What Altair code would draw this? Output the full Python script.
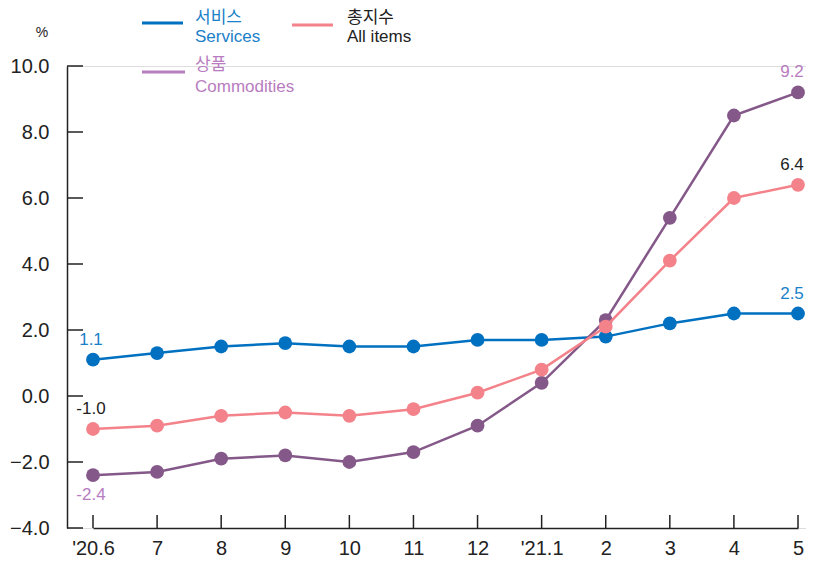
import altair as alt
import pandas as pd

months = ["'20.6", "7", "8", "9", "10", "11", "12", "'21.1", "2", "3", "4", "5"]
services = [1.1, 1.3, 1.5, 1.6, 1.5, 1.5, 1.7, 1.7, 1.8, 2.2, 2.5, 2.5]
all_items = [-1.0, -0.9, -0.6, -0.5, -0.6, -0.4, 0.1, 0.8, 2.1, 4.1, 6.0, 6.4]
commodities = [-2.4, -2.3, -1.9, -1.8, -2.0, -1.7, -0.9, 0.4, 2.3, 5.4, 8.5, 9.2]
y_ticks = [-4, -2, 0, 2, 4, 6, 8, 10]

FONT = "Liberation Sans, Arial, Noto Sans CJK KR"
C_SERV = "#0070c0"
C_ALL = "#f4828a"
C_COMM = "#845888"
C_COMM_TXT = "#b87cc0"
C_SERV_TXT = "#1a80c8"
DARK = "#222222"

W, H = 739, 462

X_SCALE = alt.Scale(type="point", domain=months, range=[26, 731], padding=0)
Y_SCALE = alt.Scale(domain=[-4, 10], nice=False, zero=False)

def series_df(vals, name):
    return pd.DataFrame({"month": months, "value": vals, "series": name,
                         "idx": list(range(len(months)))})

x_enc = alt.X("month:O", sort=months, scale=X_SCALE,
              axis=alt.Axis(title=None, labelAngle=0, tickSize=0, labelPadding=10,
                            labelFontSize=20, labelColor=DARK, labelFont=FONT,
                            domainColor=DARK, domainWidth=1.5, grid=False))
y_enc = alt.Y("value:Q", scale=Y_SCALE,
              axis=alt.Axis(title=None, values=y_ticks, format=".1f", tickSize=0,
                            labelPadding=18, labelFontSize=20, labelColor=DARK,
                            labelFont=FONT, domainColor=DARK, domainWidth=1.5, grid=False))

def line_layer(vals, name, color):
    df = series_df(vals, name)
    base = alt.Chart(df).encode(x=x_enc, y=y_enc)
    line = base.mark_line(color=color, strokeWidth=2.5)
    pts = base.mark_circle(color=color, size=190, opacity=1)
    return line + pts

def end_labels(vals, name, color_first, color_last, dy_first, dy_last):
    df = series_df(vals, name)
    df["lab"] = [f"{v:.1f}" for v in vals]
    xe = alt.X("month:O", sort=months, scale=X_SCALE)
    first = alt.Chart(df).transform_filter(alt.datum.idx == 0).mark_text(
        font=FONT, fontSize=17, color=color_first, dy=dy_first, dx=-2
    ).encode(x=xe, y=alt.Y("value:Q", scale=Y_SCALE), text="lab:N")
    last = alt.Chart(df).transform_filter(alt.datum.idx == len(months) - 1).mark_text(
        font=FONT, fontSize=17, color=color_last, dy=dy_last, dx=-6
    ).encode(x=xe, y=alt.Y("value:Q", scale=Y_SCALE), text="lab:N")
    return first + last

one = pd.DataFrame({"a": [0]})

def legend_item(x0, x1, yl, color, t1, t2, tx, ty1, ty2, tcolor):
    rule = alt.Chart(one).mark_rule(color=color, strokeWidth=3).encode(
        x=alt.value(x0), x2=alt.value(x1), y=alt.value(yl))
    k = alt.Chart(one).mark_text(text=t1, font=FONT, fontSize=17, color=tcolor,
                                 align="left", baseline="middle").encode(
        x=alt.value(tx), y=alt.value(ty1))
    e = alt.Chart(one).mark_text(text=t2, font=FONT, fontSize=17, color=tcolor,
                                 align="left", baseline="middle").encode(
        x=alt.value(tx), y=alt.value(ty2))
    return rule + k + e

yt = alt.Chart(pd.DataFrame({"value": y_ticks})).mark_rule(
    color=DARK, strokeWidth=1.5).encode(
    y=alt.Y("value:Q", scale=Y_SCALE), x=alt.value(0), x2=alt.value(16))
xt = alt.Chart(pd.DataFrame({"month": months})).mark_rule(
    color=DARK, strokeWidth=1.5).encode(
    x=alt.X("month:O", sort=months, scale=X_SCALE), y=alt.value(H - 13), y2=alt.value(H))

pct = alt.Chart(one).mark_text(text="%", font=FONT, fontSize=14, color=DARK).encode(
    x=alt.value(-25), y=alt.value(-33))

chart = alt.layer(
    line_layer(services, "서비스", C_SERV),
    line_layer(commodities, "상품", C_COMM),
    line_layer(all_items, "총지수", C_ALL),
    yt, xt,
    end_labels(services, "서비스", C_SERV_TXT, C_SERV_TXT, -20, -20),
    end_labels(all_items, "총지수", DARK, DARK, -20, -20),
    end_labels(commodities, "상품", C_COMM_TXT, C_COMM_TXT, 20, -20),
    legend_item(75, 116, -43, C_SERV, "서비스", "Services", 128, -48, -29, C_SERV_TXT),
    legend_item(225, 266, -41, C_ALL, "총지수", "All items", 280, -48, -29, DARK),
    legend_item(75, 118, 6, C_COMM_TXT, "상품", "Commodities", 128, -1, 21, C_COMM_TXT),
    pct,
).properties(
    width=W, height=H,
    autosize=alt.AutoSizeParams(type="none"),
    padding={"left": 59, "top": 58, "right": 0, "bottom": 34},
).configure_view(stroke=None).configure(background="white")

chart.save("out.html", embed_options={"renderer": "svg", "actions": False})
